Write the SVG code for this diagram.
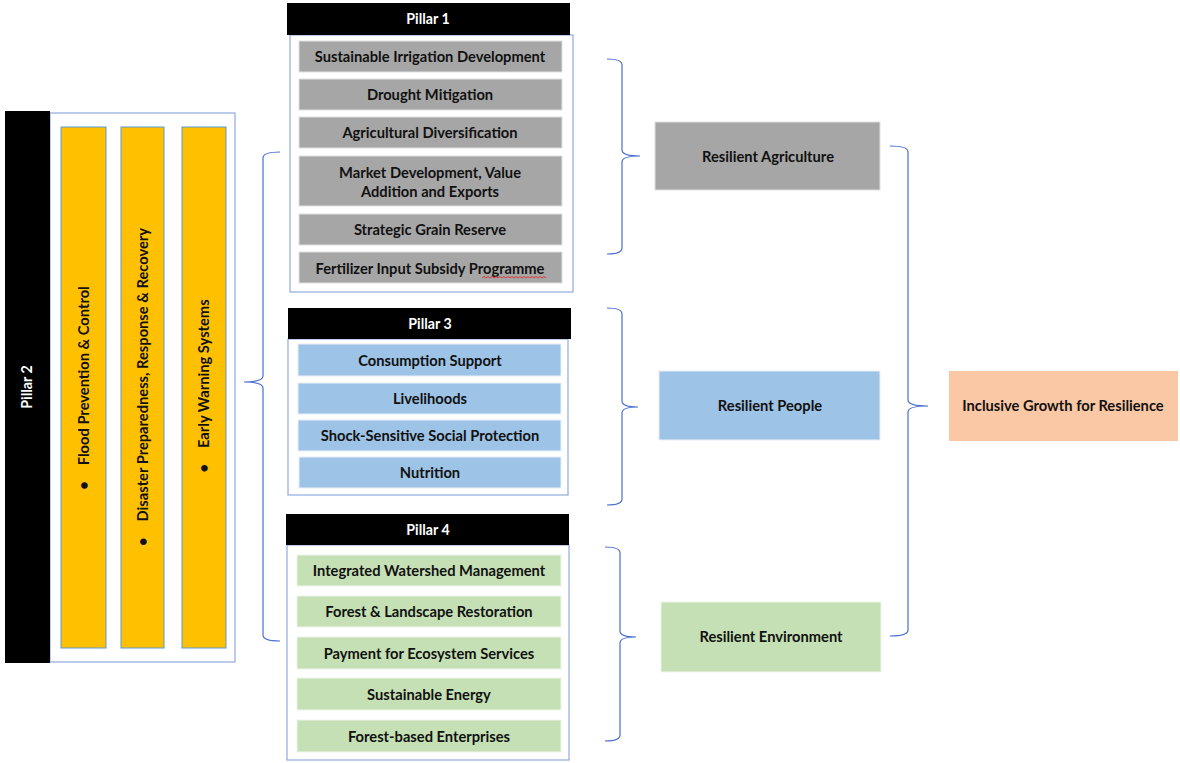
<svg xmlns="http://www.w3.org/2000/svg" width="1180" height="763" viewBox="0 0 1180 763">
<style>
.t{font-family:Lato,"Open Sans","Liberation Sans",sans-serif;font-weight:bold;font-size:14.7px;fill:#111;text-anchor:middle}
.w{font-family:Lato,"Open Sans","Liberation Sans",sans-serif;font-weight:bold;font-size:14.2px;fill:#fff;text-anchor:middle}
.hdr{fill:#000}
.box{fill:#fff;stroke:#8faadc;stroke-width:1.2}
.g{fill:#a6a6a6;stroke:#e0e0e0;stroke-width:1}
.b{fill:#9dc3e6;stroke:#e8f0f8;stroke-width:1}
.gr{fill:#c5e0b4;stroke:#eef6ea;stroke-width:1}
.y{fill:#ffc000;stroke:#5b9bd5;stroke-width:1}
.pe{fill:#fbc8a6}
.br{fill:none;stroke:#4a6fd0;stroke-width:1.2}
</style>
<rect width="1180" height="763" fill="#fff"/>
<g id="pillar2">
<rect class="box" x="50" y="113" width="185" height="549"/>
<rect class="hdr" x="5" y="111" width="45" height="552"/>
<text class="w" transform="translate(27.5,387) rotate(-90)" dy="0.35em">Pillar 2</text>
<rect class="y" x="61" y="127" width="45" height="521"/>
<text class="t" transform="translate(83.5,388) rotate(-90)" dy="0.35em">•<tspan dx="16">Flood Prevention &amp; Control</tspan></text>
<rect class="y" x="121" y="127" width="43" height="521"/>
<text class="t" transform="translate(142.5,387) rotate(-90)" dy="0.35em">•<tspan dx="16">Disaster Preparedness, Response &amp; Recovery</tspan></text>
<rect class="y" x="182" y="127" width="44" height="521"/>
<text class="t" transform="translate(204,386) rotate(-90)" dy="0.35em">•<tspan dx="16">Early Warning Systems</tspan></text>
</g>
<g id="pillar1">
<rect class="box" x="290" y="35" width="283" height="257"/>
<rect class="hdr" x="287" y="3" width="283" height="32"/>
<text class="w" x="428" y="24">Pillar 1</text>
<rect class="g" x="299" y="41" width="263" height="31"/>
<text class="t" x="430" y="62">Sustainable Irrigation Development</text>
<rect class="g" x="299" y="79" width="263" height="31"/>
<text class="t" x="430" y="100">Drought Mitigation</text>
<rect class="g" x="299" y="117" width="263" height="31"/>
<text class="t" x="430" y="138">Agricultural Diversification</text>
<rect class="g" x="299" y="156" width="263" height="50"/>
<text class="t" x="430" y="177.5">Market Development, Value</text>
<text class="t" x="430" y="196.5">Addition and Exports</text>
<rect class="g" x="299" y="214" width="263" height="31"/>
<text class="t" x="430" y="235">Strategic Grain Reserve</text>
<rect class="g" x="299" y="252" width="263" height="31"/>
<text class="t" x="430" y="273.5">Fertilizer Input Subsidy Programme</text>
<path d="M482 278 l2 -1.5 l2 1.5 l2 -1.5 l2 1.5 l2 -1.5 l2 1.5 l2 -1.5 l2 1.5 l2 -1.5 l2 1.5 l2 -1.5 l2 1.5 l2 -1.5 l2 1.5 l2 -1.5 l2 1.5 l2 -1.5 l2 1.5 l2 -1.5 l2 1.5 l2 -1.5 l2 1.5 l2 -1.5 l2 1.5 l2 -1.5 l2 1.5 l2 -1.5 l2 1.5 l2 -1.5 l2 1.5 l2 -1.5 l2 1.5" fill="none" stroke="#e02020" stroke-width="0.8"/>
</g>
<g id="pillar3">
<rect class="box" x="288" y="339" width="280" height="156"/>
<rect class="hdr" x="288" y="308" width="283" height="31"/>
<text class="w" x="430" y="328.5">Pillar 3</text>
<rect class="b" x="298" y="344" width="263" height="32"/>
<text class="t" x="430" y="365.5">Consumption Support</text>
<rect class="b" x="298" y="383" width="263" height="31"/>
<text class="t" x="430" y="404">Livelihoods</text>
<rect class="b" x="298" y="420" width="263" height="31"/>
<text class="t" x="430" y="441">Shock-Sensitive Social Protection</text>
<rect class="b" x="299" y="457" width="262" height="31"/>
<text class="t" x="430" y="478">Nutrition</text>
</g>
<g id="pillar4">
<rect class="box" x="287" y="545" width="282" height="215"/>
<rect class="hdr" x="286" y="514" width="283" height="31"/>
<text class="w" x="428" y="534.5">Pillar 4</text>
<rect class="gr" x="297" y="555" width="264" height="31"/>
<text class="t" x="429" y="576">Integrated Watershed Management</text>
<rect class="gr" x="297" y="596" width="264" height="31"/>
<text class="t" x="429" y="617">Forest &amp; Landscape Restoration</text>
<rect class="gr" x="297" y="637" width="264" height="32"/>
<text class="t" x="429" y="658.5">Payment for Ecosystem Services</text>
<rect class="gr" x="297" y="678" width="264" height="32"/>
<text class="t" x="429" y="699.5">Sustainable Energy</text>
<rect class="gr" x="297" y="720" width="264" height="32"/>
<text class="t" x="429" y="741.5">Forest-based Enterprises</text>
</g>
<g id="resilient-agriculture">
<rect class="g" x="655" y="122" width="225" height="68" stroke="none"/>
<text class="t" x="768" y="161.5">Resilient Agriculture</text>
</g>
<g id="resilient-people">
<rect class="b" x="659" y="371" width="221" height="69" stroke="none"/>
<text class="t" x="770" y="411">Resilient People</text>
</g>
<g id="resilient-environment">
<rect class="gr" x="661" y="602" width="220" height="70" stroke="none"/>
<text class="t" x="771" y="642">Resilient Environment</text>
</g>
<g id="inclusive-growth">
<rect class="pe" x="949" y="371" width="229" height="70"/>
<text class="t" x="1063" y="411">Inclusive Growth for Resilience</text>
</g>
<g id="connectors">
<path class="br" d="M280 152 Q263 152 263 158 L263 376 Q263 382 244 382 Q263 382 263 388 L263 635 Q263 641 280 641"/>
<path class="br" d="M607 59 Q622 59 622 65 L622 150 Q622 156 640 156 Q622 156 622 162 L622 248 Q622 254 607 254"/>
<path class="br" d="M607 308 Q622 308 622 314 L622 401 Q622 407 638 407 Q622 407 622 413 L622 499 Q622 505 607 505"/>
<path class="br" d="M605 547 Q620 547 620 553 L620 631 Q620 637 636 637 Q620 637 620 643 L620 735 Q620 741 605 741"/>
<path class="br" d="M890 146 Q908 146 908 152 L908 400 Q908 406 928 406 Q908 406 908 412 L908 630 Q908 636 890 636"/>
</g>
</svg>
